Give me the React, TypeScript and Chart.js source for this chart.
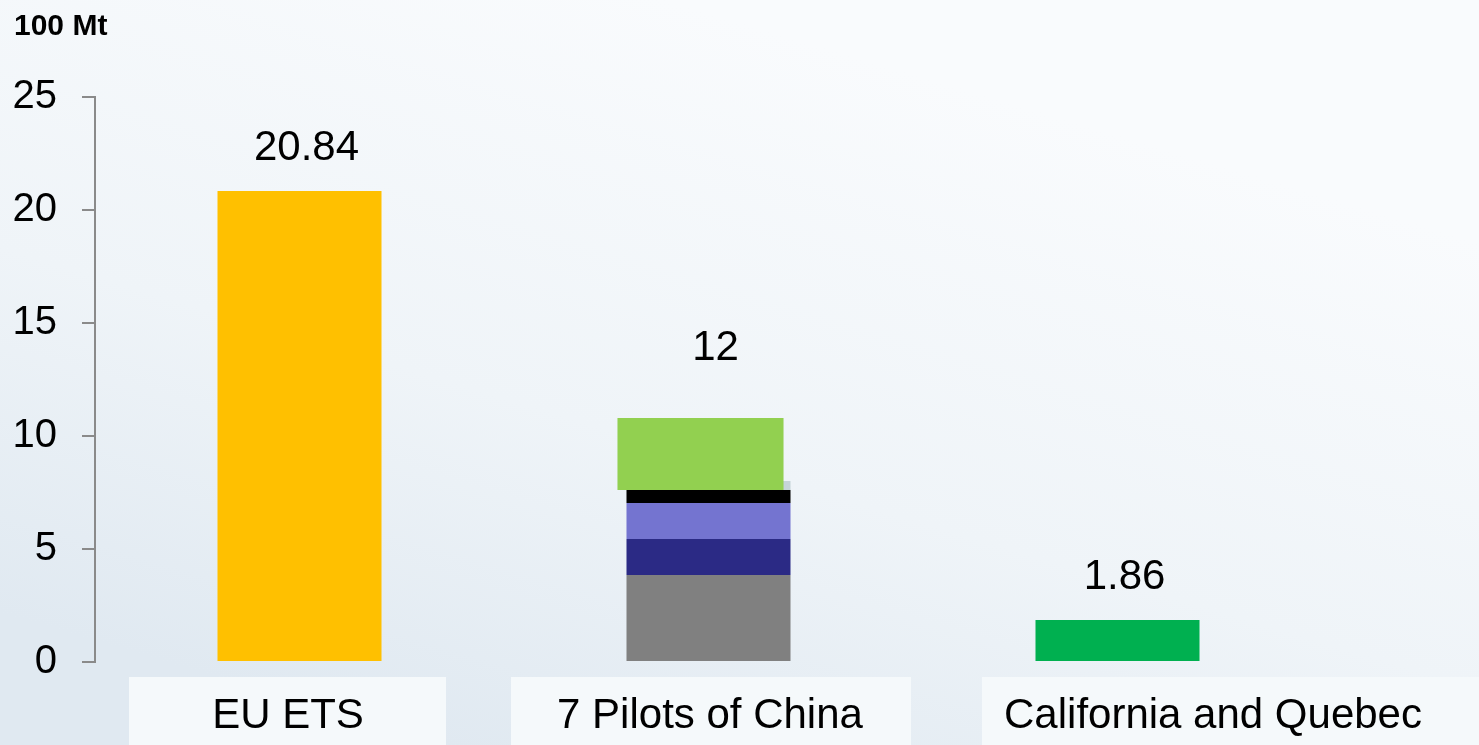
import React, { useEffect, useRef } from 'react';
import { Chart, registerables } from 'chart.js';

Chart.register(...registerables);

// ---- data ----
const categories = ['EU ETS', '7 Pilots of China', 'California and Quebec'];
const singleBarValues = [20.84, null, 1.86];
const singleBarColors = ['#FFC000', 'rgba(0,0,0,0)', '#00B050'];
const totalValues = [20.84, 12, 1.86];
const totalLabels = ['20.84', '12', '1.86'];
const chinaSegmentValues = [3.85, 1.59, 1.6, 0.57, 0.4];
const chinaSegmentColors = ['#808080', '#2B2A85', '#7474D0', '#000000', '#C5D4D8'];
const chinaTopRange: [number, number] = [7.61, 10.8];
const chinaTopColor = '#92D050';
const yMin = 0;
const yMax = 25;
const yStep = 5;
const unitLabel = '100 Mt';

// ---- styling ----
const FONT = '"Liberation Sans", Arial, Helvetica, sans-serif';
const labelBoxes: [number, number][] = [
  [129, 446],
  [511, 911],
  [982, 1479],
];
const labelCenters = [288, 710, 1213];

const decorPlugin = {
  id: 'decor',
  beforeDraw(chart: any) {
    const { ctx, width, height } = chart;
    ctx.save();
    const g = ctx.createLinearGradient(width * 0.45, 0, width * 0.3, height);
    g.addColorStop(0, '#f9fbfd');
    g.addColorStop(0.55, '#eff4f8');
    g.addColorStop(1, '#e0e9f1');
    ctx.fillStyle = g;
    ctx.fillRect(0, 0, width, height);
    ctx.fillStyle = '#f5f9fb';
    labelBoxes.forEach(([l, r]) => ctx.fillRect(l, 677, r - l, height - 677));
    ctx.restore();
  },
  beforeDatasetDraw(chart: any, args: any) {
    const ds = chart.data.datasets[args.index];
    chart.ctx.save();
    if (ds.shiftX) chart.ctx.translate(ds.shiftX, 0);
  },
  afterDatasetDraw(chart: any) {
    chart.ctx.restore();
  },
  afterDraw(chart: any) {
    const { ctx } = chart;
    const xs = chart.scales.x;
    const ys = chart.scales.y;
    ctx.save();
    ctx.fillStyle = '#000';
    ctx.textBaseline = 'alphabetic';
    // unit
    ctx.textAlign = 'left';
    ctx.font = `bold 30px ${FONT}`;
    ctx.fillText(unitLabel, 14, 35);
    // totals
    ctx.textAlign = 'center';
    ctx.font = `42px ${FONT}`;
    totalValues.forEach((v, i) => {
      const x = xs.getPixelForValue(i) + 7;
      const y = ys.getPixelForValue(v) - 31;
      ctx.fillText(totalLabels[i], x, y);
    });
    // category labels
    ctx.font = `42px ${FONT}`;
    categories.forEach((c, i) => {
      ctx.fillText(c, labelCenters[i], 728);
    });
    ctx.restore();
  },
};

export default function App() {
  const ref = useRef<HTMLCanvasElement | null>(null);
  useEffect(() => {
    if (!ref.current) return;
    const datasets: any[] = [
      {
        label: 'China top',
        data: categories.map((_, i) => (i === 1 ? chinaTopRange : null)),
        backgroundColor: chinaTopColor,
        stack: 'b',
        order: 0,
        grouped: false,
        barPercentage: 0.406,
        categoryPercentage: 1,
        shiftX: -8,
      },
      {
        label: 'Total',
        data: singleBarValues,
        backgroundColor: singleBarColors,
        stack: 'a',
        order: 1,
        grouped: false,
        barPercentage: 0.401,
        categoryPercentage: 1,
      },
      ...chinaSegmentValues.map((v, k) => ({
        label: 'China ' + k,
        data: categories.map((_, i) => (i === 1 ? v : null)),
        backgroundColor: chinaSegmentColors[k],
        stack: 'a',
        order: 1,
        grouped: false,
        barPercentage: 0.401,
        categoryPercentage: 1,
      })),
    ];
    const chart = new Chart(ref.current, {
      type: 'bar',
      data: { labels: categories, datasets },
      options: {
        responsive: false,
        animation: false,
        layout: { padding: { top: 97, bottom: 83, left: 0, right: 157 } },
        plugins: { legend: { display: false }, tooltip: { enabled: false } },
        scales: {
          x: { display: false },
          y: {
            stacked: true,
            min: yMin,
            max: yMax,
            afterFit(scale: any) {
              scale.width = 95;
            },
            ticks: {
              stepSize: yStep,
              color: '#000',
              padding: 25,
              font: { family: FONT, size: 40 },
            },
            grid: {
              drawOnChartArea: false,
              drawTicks: true,
              tickLength: 13,
              color: '#8a8a8a',
              lineWidth: 2,
            },
            border: { display: true, color: '#8a8a8a', width: 2 },
          },
        },
      },
      plugins: [decorPlugin],
    } as any);
    return () => chart.destroy();
  }, []);
  return (
    <div style={{ position: 'absolute', left: 0, top: 0, width: 1479, height: 745 }}>
      <canvas ref={ref} width={1479} height={745} style={{ display: 'block' }} />
    </div>
  );
}
